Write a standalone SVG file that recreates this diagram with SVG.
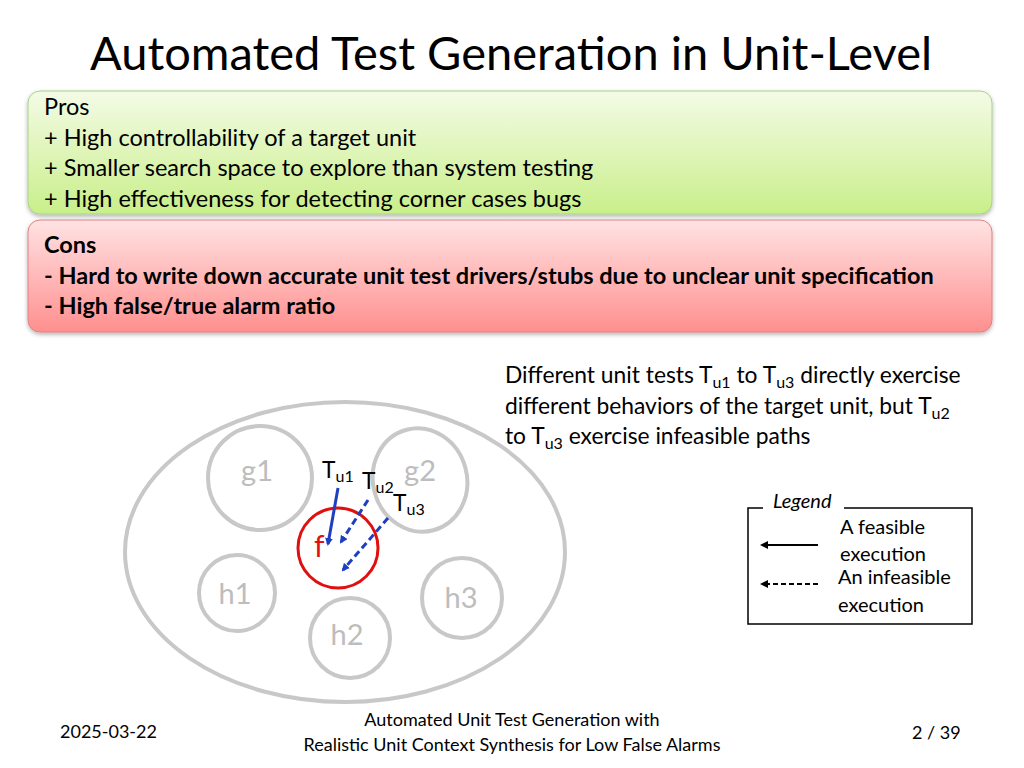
<svg xmlns="http://www.w3.org/2000/svg" width="1024" height="768" viewBox="0 0 1024 768">
<defs>
<linearGradient id="gg" x1="0" y1="0" x2="0" y2="1"><stop offset="0" stop-color="#f4fbe6"/><stop offset="1" stop-color="#c9ef8a"/></linearGradient>
<linearGradient id="rg" x1="0" y1="0" x2="0" y2="1"><stop offset="0" stop-color="#ffe3e3"/><stop offset="1" stop-color="#ff8f8f"/></linearGradient>
<marker id="ab" markerWidth="8" markerHeight="8" refX="6" refY="4" orient="auto" markerUnits="userSpaceOnUse"><path d="M0,0 L8,4 L0,8 z" fill="#1f3fbf"/></marker>
<marker id="ak" markerWidth="8" markerHeight="8" refX="6" refY="4" orient="auto" markerUnits="userSpaceOnUse"><path d="M0,0 L8,4 L0,8 z" fill="#000"/></marker>
<filter id="sh"><feDropShadow dx="0" dy="2" stdDeviation="2" flood-opacity="0.3"/></filter>
</defs>
<style>
text{font-family:Lato,"Open Sans",sans-serif;}
.b{font-size:23.5px;fill:#000}
.g{fill:none;stroke:#c8c8c8;stroke-width:4}
.gl{font-size:29px;fill:#bdbdbd}
.l{font-size:22.8px;fill:#000}
.s{font-size:16px}
.lg{font-size:20px;fill:#000}
.ft{font-size:18px;fill:#000}
</style>
<rect width="1024" height="768" fill="#fff"/>
<text x="90" y="70" font-size="47" fill="#000">Automated Test Generation in Unit-Level</text>
<g id="pros">
<rect x="28" y="91" width="964" height="123" rx="12" fill="url(#gg)" stroke="#a8d08d" filter="url(#sh)"/>
<text class="b" x="44" y="115">Pros</text>
<text class="b" x="44" y="146">+ High controllability of a target unit</text>
<text class="b" x="44" y="176">+ Smaller search space to explore than system testing</text>
<text class="b" x="44" y="207">+ High effectiveness for detecting corner cases bugs</text>
</g>
<g id="cons">
<rect x="28" y="220" width="964" height="112" rx="12" fill="url(#rg)" stroke="#e08080" filter="url(#sh)"/>
<text class="b" x="44" y="253" font-weight="bold">Cons</text>
<text class="b" x="44" y="284" font-weight="bold">- Hard to write down accurate unit test drivers/stubs due to unclear unit specification</text>
<text class="b" x="44" y="314" font-weight="bold">- High false/true alarm ratio</text>
</g>
<g id="desc">
<text class="l" x="505" y="383">Different unit tests T<tspan class="s" dy="5">u1</tspan><tspan dy="-5"> to T</tspan><tspan class="s" dy="5">u3</tspan><tspan dy="-5"> directly exercise</tspan></text>
<text class="l" x="505" y="414">different behaviors of the target unit, but T<tspan class="s" dy="5">u2</tspan></text>
<text class="l" x="505" y="444">to T<tspan class="s" dy="5">u3</tspan><tspan dy="-5"> exercise infeasible paths</tspan></text>
</g>
<g id="system"><ellipse cx="345" cy="552" rx="220" ry="150" class="g"/></g>
<g id="g1"><circle cx="260" cy="478" r="52" class="g"/><text class="gl" x="257" y="481" text-anchor="middle">g1</text></g>
<g id="g2"><ellipse cx="420" cy="480" rx="47" ry="52" class="g" transform="rotate(-15 420 480)"/><text class="gl" x="420" y="481" text-anchor="middle">g2</text></g>
<g id="h1"><circle cx="237" cy="593" r="38" class="g"/><text class="gl" x="235" y="604" text-anchor="middle">h1</text></g>
<g id="h2"><circle cx="350" cy="638" r="40" class="g"/><text class="gl" x="347" y="645" text-anchor="middle">h2</text></g>
<g id="h3"><circle cx="462" cy="598" r="40" class="g"/><text class="gl" x="461" y="608" text-anchor="middle">h3</text></g>
<g id="f"><circle cx="338" cy="548" r="40" fill="none" stroke="#e01010" stroke-width="3"/><text x="314" y="557" font-size="30" fill="#e01010">f</text></g>
<g id="labels">
<text class="l" x="322" y="478">T<tspan class="s" dy="4">u1</tspan></text>
<text class="l" x="362" y="489">T<tspan class="s" dy="4">u2</tspan></text>
<text class="l" x="393" y="511">T<tspan class="s" dy="4">u3</tspan></text>
</g>
<g id="connectors" stroke-width="3" fill="none">
<line x1="338" y1="488" x2="328" y2="544" stroke="#1f3fbf" marker-end="url(#ab)"/>
<line x1="368" y1="500" x2="341" y2="542" stroke="#1f3fbf" stroke-dasharray="7,4" marker-end="url(#ab)"/>
<line x1="388" y1="518" x2="343" y2="570" stroke="#1f3fbf" stroke-dasharray="7,4" marker-end="url(#ab)"/>
<line x1="818" y1="545" x2="762" y2="545" stroke="#000" stroke-width="2" marker-end="url(#ak)"/>
<line x1="818" y1="584" x2="762" y2="584" stroke="#000" stroke-width="2" stroke-dasharray="5,3" marker-end="url(#ak)"/>
</g>
<g id="legend">
<path d="M763,508 H748 V624 H972 V508 H844" fill="none" stroke="#000" stroke-width="1.5"/>
<text x="773" y="508" font-size="20" font-style="italic">Legend</text>
<text class="lg" x="840" y="534">A feasible</text>
<text class="lg" x="840" y="561">execution</text>
<text class="lg" x="838" y="584">An infeasible</text>
<text class="lg" x="838" y="612">execution</text>
</g>
<g id="footer">
<text class="ft" x="60" y="738" font-size="16">2025-03-22</text>
<text class="ft" x="512" y="726" text-anchor="middle">Automated Unit Test Generation with</text>
<text class="ft" x="512" y="751" text-anchor="middle">Realistic Unit Context Synthesis for Low False Alarms</text>
<text class="ft" x="912" y="739">2 / 39</text>
</g>
</svg>
